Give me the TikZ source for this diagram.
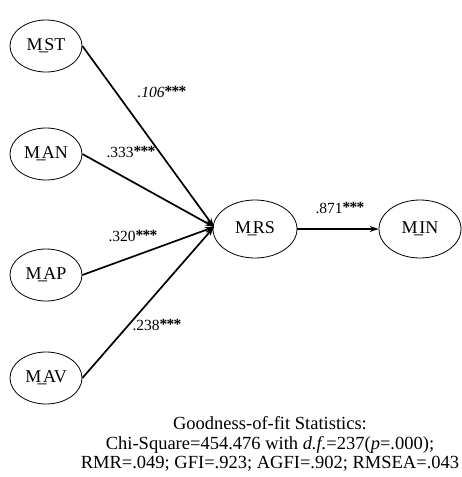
\documentclass[tikz,border=0pt]{standalone}
\usepackage{fontspec}
\setmainfont{Liberation Serif}
\usetikzlibrary{arrows.meta,shapes.geometric}
\newcommand{\lvname}[2]{#1\makebox[0.1em][c]{\_}#2}
\newcommand{\stars}{\raisebox{0.5pt}{\bfseries *\kern-0.8pt*\kern-0.8pt*}}
\begin{document}
\begin{tikzpicture}[x=1pt,y=-1pt,
  latent/.style={draw,ellipse,line width=0.8pt,minimum width=72pt,minimum height=52pt,inner sep=0pt,font=\fontsize{18}{20}\selectfont},
  path/.style={line width=1.7pt,-{Stealth[length=9pt,width=6pt]}},
  coef/.style={font=\fontsize{15.5}{17}\selectfont,inner sep=0pt}]
\useasboundingbox (0,0) rectangle (462,477);
\node[latent] (st) at (46,46) {\lvname{M}{ST}};
\node[latent] (an) at (46,154) {\lvname{M}{AN}};
\node[latent] (ap) at (46,275) {\lvname{M}{AP}};
\node[latent] (av) at (46,378) {\lvname{M}{AV}};
\node[latent,minimum width=84pt,minimum height=58pt] (rs) at (255,229) {\lvname{M}{RS}};
\node[latent,minimum width=82pt,minimum height=58pt] (in) at (420,229) {\lvname{M}{IN}};
\coordinate (tip) at (214,227);
\draw[path] (st.east) -- (tip);
\draw[path] (an.east) -- (tip);
\draw[path] (ap.east) -- (tip);
\draw[path] (av.east) -- (tip);
\draw[path] (rs.east) -- (in.west);
\node[coef] (c1) at (162,92) {\textit{.106}\stars};
\node[coef] (c2) at (131,152) {.333\stars};
\node[coef] (c3) at (133,236) {.320\stars};
\node[coef] (c4) at (157,325) {.238\stars};
\node[coef] (c5) at (340,208) {.871\stars};
\node[align=center,inner sep=0pt,font=\fontsize{18.5}{19.5}\selectfont] (fit) at (270,444)
 {Goodness-of-fit Statistics:\\
  Chi-Square=454.476 with \textit{d.f.}=237(\textit{p}=.000);\\
  RMR=.049; GFI=.923; AGFI=.902; RMSEA=.043};
\end{tikzpicture}
\end{document}
